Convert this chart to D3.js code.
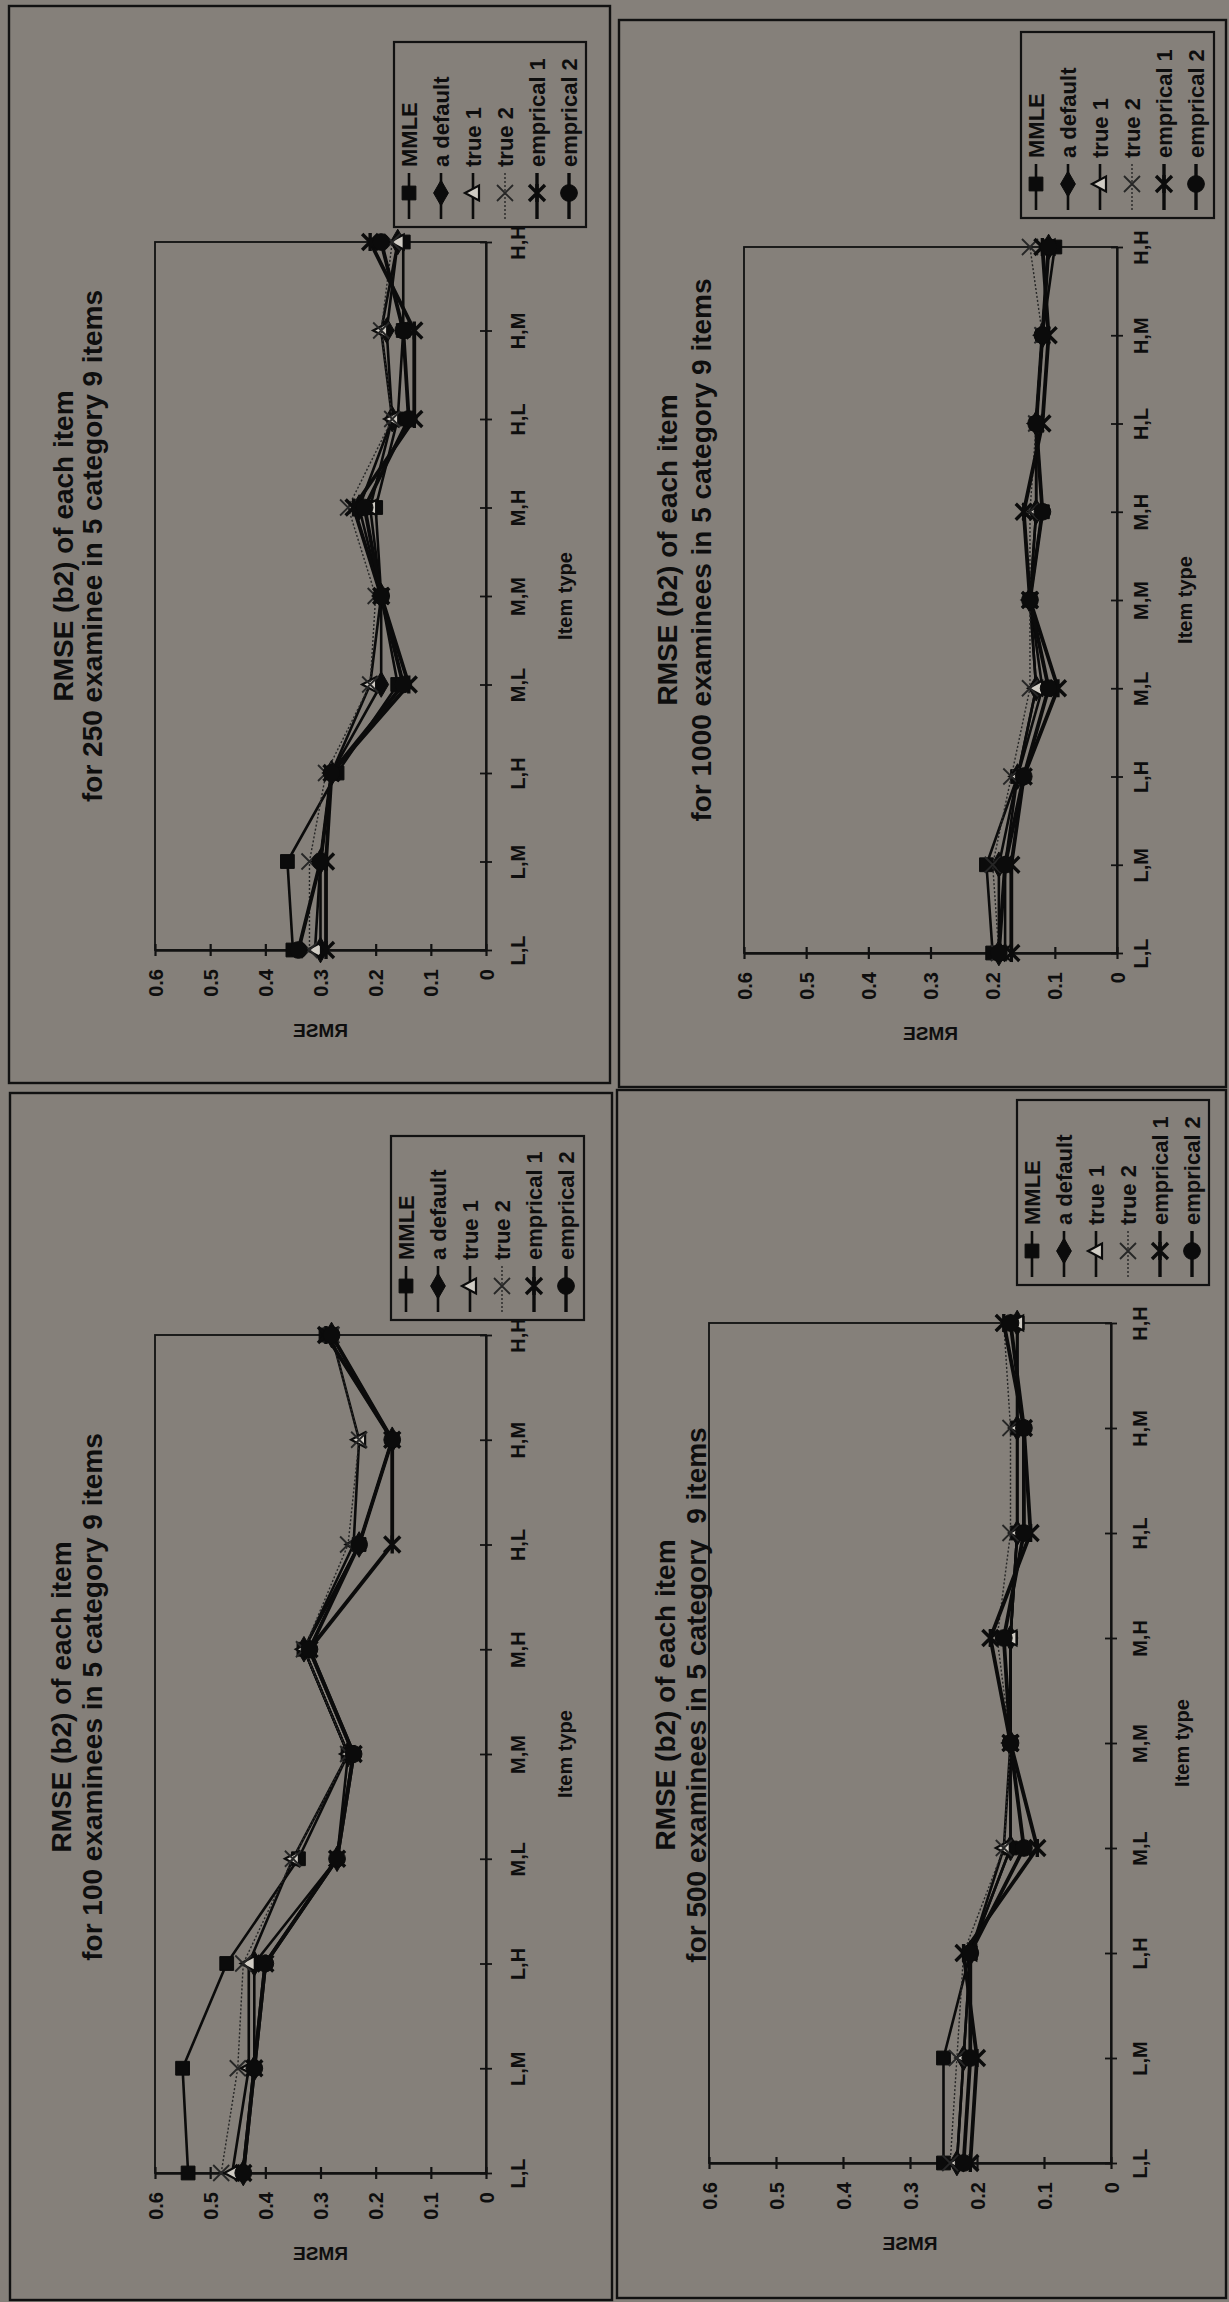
<!DOCTYPE html>
<html>
<head>
<meta charset="utf-8">
<script src="https://cdn.jsdelivr.net/npm/d3@7"></script>
<style>
  html, body { margin: 0; padding: 0; background: #85807a; }
  svg { display: block; }
  text { font-family: "Liberation Sans", Arial, sans-serif; font-weight: bold; fill: #0e0e0e; }
</style>
</head>
<body>
<svg id="page" width="1229" height="2302"></svg>
<script>
// Item types (a-level, b-level) in plotting order
const categories = ["L,L", "L,M", "L,H", "M,L", "M,M", "M,H", "H,L", "H,M", "H,H"];
const seriesNames = ["MMLE", "a default", "true 1", "true 2", "emprical 1", "emprical 2"];
const rmseTicks = [0, 0.1, 0.2, 0.3, 0.4, 0.5, 0.6];

// RMSE of b2 per item type, one row per estimation method (same order as seriesNames)
const rmse100 = [
  [0.54, 0.55, 0.47, 0.34, 0.25, 0.33, 0.23, 0.17, 0.29],
  [0.44, 0.42, 0.42, 0.27, 0.25, 0.33, 0.23, 0.17, 0.28],
  [0.46, 0.43, 0.43, 0.35, 0.25, 0.33, 0.24, 0.23, 0.28],
  [0.48, 0.45, 0.44, 0.35, 0.25, 0.33, 0.25, 0.23, 0.28],
  [0.44, 0.42, 0.40, 0.27, 0.24, 0.32, 0.17, 0.17, 0.29],
  [0.44, 0.42, 0.40, 0.27, 0.24, 0.32, 0.23, 0.17, 0.28]
];
const rmse250 = [
  [0.35, 0.36, 0.27, 0.16, 0.19, 0.20, 0.16, 0.15, 0.15],
  [0.30, 0.30, 0.28, 0.19, 0.19, 0.23, 0.17, 0.18, 0.16],
  [0.31, 0.30, 0.28, 0.21, 0.19, 0.21, 0.17, 0.19, 0.16],
  [0.32, 0.32, 0.29, 0.21, 0.20, 0.25, 0.17, 0.19, 0.17],
  [0.29, 0.29, 0.28, 0.14, 0.19, 0.24, 0.13, 0.13, 0.21],
  [0.34, 0.30, 0.28, 0.15, 0.19, 0.22, 0.14, 0.15, 0.19]
];
const rmse500 = [
  [0.25, 0.25, 0.21, 0.15, 0.15, 0.15, 0.14, 0.14, 0.14],
  [0.23, 0.22, 0.21, 0.15, 0.15, 0.15, 0.14, 0.14, 0.14],
  [0.23, 0.22, 0.21, 0.16, 0.15, 0.15, 0.14, 0.14, 0.14],
  [0.24, 0.23, 0.22, 0.16, 0.15, 0.17, 0.15, 0.15, 0.16],
  [0.21, 0.20, 0.22, 0.11, 0.15, 0.18, 0.12, 0.13, 0.16],
  [0.22, 0.21, 0.21, 0.13, 0.15, 0.16, 0.13, 0.13, 0.15]
];
const rmse1000 = [
  [0.20, 0.21, 0.16, 0.12, 0.14, 0.12, 0.13, 0.12, 0.10],
  [0.19, 0.19, 0.16, 0.13, 0.14, 0.13, 0.13, 0.12, 0.11],
  [0.18, 0.18, 0.16, 0.13, 0.14, 0.13, 0.13, 0.12, 0.11],
  [0.19, 0.20, 0.17, 0.14, 0.14, 0.14, 0.13, 0.12, 0.14],
  [0.17, 0.17, 0.15, 0.095, 0.14, 0.15, 0.12, 0.11, 0.12],
  [0.19, 0.18, 0.15, 0.11, 0.14, 0.12, 0.13, 0.12, 0.11]
];

// Line and marker style of each method
const seriesStyle = [
  { marker: "square",   width: 2.6, dash: null,  color: "#0b0b0b" },
  { marker: "diamond",  width: 2.6, dash: null,  color: "#0b0b0b" },
  { marker: "triangle", width: 2.6, dash: null,  color: "#0b0b0b" },
  { marker: "x",        width: 1.4, dash: "2,2", color: "#262626" },
  { marker: "asterisk", width: 3.8, dash: null,  color: "#0b0b0b" },
  { marker: "circle",   width: 3.8, dash: null,  color: "#0b0b0b" }
];

// Each chart is printed turned a quarter turn: categories run upward, RMSE runs right-to-left
const panels = [
  { title2: "for 250 examinee in 5 category 9 items", data: rmse250,
    frame: [9, 6, 610, 1083], plot: { left: 155, right: 486, top: 242, bottom: 950 },
    titleX: [63, 92], titleY: 546, legend: [394, 42, 586, 227], catX: 518, itemX: 565 },
  { title2: "for 100 examinees in 5 category 9 items", data: rmse100,
    frame: [10, 1093, 612, 2300], plot: { left: 155, right: 486, top: 1335, bottom: 2173 },
    titleX: [61, 92], titleY: 1697, legend: [391, 1136, 584, 1320], catX: 518, itemX: 565 },
  { title2: "for 1000 examinees in 5 category 9 items", data: rmse1000,
    frame: [619, 20, 1226, 1087], plot: { left: 744, right: 1117, top: 247, bottom: 953 },
    titleX: [667, 701], titleY: 550, legend: [1021, 32, 1214, 218], catX: 1141, itemX: 1185 },
  { title2: "for 500 examinees in 5 category  9 items", data: rmse500,
    frame: [617, 1090, 1226, 2298], plot: { left: 709, right: 1111, top: 1323, bottom: 2163 },
    titleX: [665, 696], titleY: 1695, legend: [1017, 1100, 1209, 1285], catX: 1140, itemX: 1182 }
];

const svg = d3.select("#page");

function markerPath(type) {
  switch (type) {
    case "square":   return d3.symbol(d3.symbolSquare, 190)();
    case "diamond":  return d3.symbol(d3.symbolDiamond, 190)();
    case "circle":   return d3.symbol(d3.symbolCircle, 220)();
    case "triangle": return "M-8,0L6,-7.5L6,7.5Z";
    case "x":        return "M-8,-8L8,8M-8,8L8,-8";
    case "asterisk": return "M-8,-8L8,8M-8,8L8,-8M0,-9L0,9";
  }
}

function drawMarker(g, type, x, y, color) {
  const p = g.append("path").attr("d", markerPath(type))
    .attr("transform", `translate(${x},${y})`);
  if (type === "triangle") {
    p.attr("fill", "#cfcbc3").attr("stroke", color).attr("stroke-width", 2.2);
  } else if (type === "x") {
    p.attr("fill", "none").attr("stroke", color).attr("stroke-width", 1.8);
  } else if (type === "asterisk") {
    p.attr("fill", "none").attr("stroke", color).attr("stroke-width", 3.4);
  } else {
    p.attr("fill", color).attr("stroke", color).attr("stroke-width", 1);
  }
}

panels.forEach(pn => {
  const g = svg.append("g");
  const [fx0, fy0, fx1, fy1] = pn.frame;
  const P = pn.plot;

  // panel frame
  g.append("rect").attr("x", fx0).attr("y", fy0)
    .attr("width", fx1 - fx0).attr("height", fy1 - fy0)
    .attr("fill", "none").attr("stroke", "#111").attr("stroke-width", 2.4);

  const x = d3.scaleLinear().domain([0, 0.6]).range([P.right, P.left]);
  const y = d3.scalePoint().domain(categories).range([P.bottom, P.top]);

  // title (two lines, reading upward)
  [["RMSE (b2) of each item", pn.titleX[0]], [pn.title2, pn.titleX[1]]].forEach(([t, tx]) => {
    g.append("text").attr("transform", `translate(${tx},${pn.titleY}) rotate(-90)`)
      .attr("text-anchor", "middle").attr("dy", "0.35em")
      .style("font-size", "28px").style("white-space", "pre").text(t);
  });

  // plot area border
  g.append("rect").attr("x", P.left).attr("y", P.top)
    .attr("width", P.right - P.left).attr("height", P.bottom - P.top)
    .attr("fill", "none").attr("stroke", "#111").attr("stroke-width", 1.8);

  // RMSE value axis along the L,L edge
  const xAxis = g.append("g").attr("transform", `translate(0,${P.bottom})`)
    .call(d3.axisBottom(x).tickValues(rmseTicks)
      .tickFormat(d => d === 0 ? "0" : d.toFixed(1)).tickSizeInner(6).tickSizeOuter(0));
  xAxis.select(".domain").attr("stroke", "#111").attr("stroke-width", 2.6);
  xAxis.selectAll(".tick line").attr("y1", -6).attr("y2", 6).attr("stroke", "#111").attr("stroke-width", 2.2);
  xAxis.selectAll(".tick text")
    .attr("y", null).attr("dy", "0.35em").attr("x", null)
    .attr("transform", "translate(0,19) rotate(-90)")
    .attr("text-anchor", "end").attr("fill", "#0e0e0e")
    .style("font-size", "20px").style("font-family", "Liberation Sans, Arial, sans-serif").style("font-weight", "bold");

  // item type axis along the zero edge
  const yAxis = g.append("g").attr("transform", `translate(${P.right},0)`)
    .call(d3.axisRight(y).tickSizeInner(6).tickSizeOuter(0));
  yAxis.select(".domain").attr("stroke", "#111").attr("stroke-width", 2.2);
  yAxis.selectAll(".tick line").attr("x1", -6).attr("x2", 6).attr("stroke", "#111").attr("stroke-width", 1.8);
  yAxis.selectAll(".tick text")
    .attr("x", null).attr("dy", "0.35em")
    .attr("transform", `translate(${pn.catX - P.right},0) rotate(-90)`)
    .attr("text-anchor", "middle").attr("fill", "#0e0e0e")
    .style("font-size", "20px").style("font-family", "Liberation Sans, Arial, sans-serif").style("font-weight", "bold");

  // axis titles
  g.append("text").attr("transform", `translate(${pn.itemX},${(P.top + P.bottom) / 2}) rotate(-90)`)
    .attr("text-anchor", "middle").attr("dy", "0.35em").style("font-size", "20px").text("Item type");
  g.append("text").attr("transform", `translate(${(P.left + P.right) / 2},${P.bottom + 80}) scale(-1,1)`)
    .attr("text-anchor", "middle").attr("dy", "0.35em").style("font-size", "19px").text("RMSE");

  // series lines and markers
  const line = d3.line().x(d => x(d.v)).y(d => y(d.c));
  pn.data.forEach((vals, si) => {
    const st = seriesStyle[si];
    const pts = vals.map((v, i) => ({ c: categories[i], v }));
    g.append("path").datum(pts).attr("d", line)
      .attr("fill", "none").attr("stroke", st.color).attr("stroke-width", st.width)
      .attr("stroke-dasharray", st.dash).attr("stroke-linejoin", "round");
    pts.forEach(d => drawMarker(g, st.marker, x(d.v), y(d.c), st.color));
  });

  // legend
  const [lx0, ly0, lx1, ly1] = pn.legend;
  g.append("rect").attr("x", lx0).attr("y", ly0).attr("width", lx1 - lx0).attr("height", ly1 - ly0)
    .attr("fill", "none").attr("stroke", "#111").attr("stroke-width", 2.2);
  seriesNames.forEach((name, si) => {
    const st = seriesStyle[si];
    const rx = lx0 + 15 + si * 32;
    g.append("line").attr("x1", rx).attr("x2", rx).attr("y1", ly1 - 54).attr("y2", ly1 - 8)
      .attr("stroke", st.color).attr("stroke-width", st.width > 3 ? 3.4 : (st.dash ? 1.4 : 2.6))
      .attr("stroke-dasharray", st.dash);
    drawMarker(g, st.marker, rx, ly1 - 34, st.color);
    g.append("text").attr("transform", `translate(${rx},${ly1 - 60}) rotate(-90)`)
      .attr("text-anchor", "start").attr("dy", "0.35em").style("font-size", "22px").text(name);
  });
});
</script>
</body>
</html>
